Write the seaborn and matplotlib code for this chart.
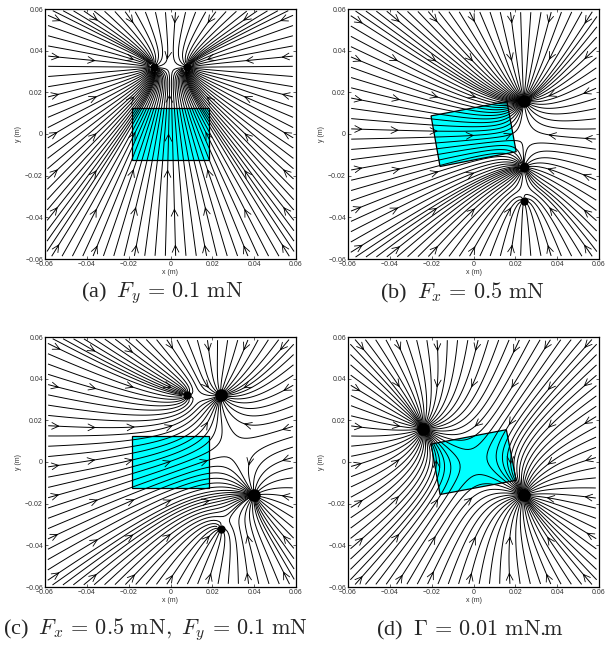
import numpy as np
import matplotlib
matplotlib.use("Agg")
import matplotlib.pyplot as plt
import seaborn as sns
from matplotlib.patches import Polygon, FancyArrowPatch

sns.set_theme(style="white")
plt.rcParams["font.family"] = ["Liberation Sans", "DejaVu Sans"]
plt.rcParams["mathtext.fontset"] = "cm"

# ---- data ----
captions = [r"(a)  $F_y\,=\,0.1\ \mathrm{mN}$",
            r"(b)  $F_x\,=\,0.5\ \mathrm{mN}$",
            r"(c)  $F_x\,=\,0.5\ \mathrm{mN},\ F_y\,=\,0.1\ \mathrm{mN}$",
            r"(d)  $\Gamma\,=\,0.01\ \mathrm{mN}.\!\!\mathrm{m}$"]

# equilibrium points (x, y) in metres, relative attraction strength, dot size
sinks_a_x = [-0.008, 0.008]
sinks_a_y = [0.032, 0.032]
sinks_a_s = [1.0, 1.0]
sinks_a_size = [5, 5]

sinks_b_x = [0.024, 0.024, 0.024]
sinks_b_y = [0.016, -0.016, -0.032]
sinks_b_s = [1.0, 0.6, 0.25]
sinks_b_size = [8, 6, 5]

sinks_c_x = [0.008, 0.024, 0.040, 0.024]
sinks_c_y = [0.032, 0.032, -0.016, -0.032]
sinks_c_s = [0.35, 1.0, 1.0, 0.3]
sinks_c_size = [5, 8, 8, 5]

sinks_d_x = [-0.024, 0.024]
sinks_d_y = [0.016, -0.016]
sinks_d_s = [1.0, 1.0]
sinks_d_size = [8, 8]

# magnet (cyan rectangle) corners
rect_a_x = [-0.0185, 0.0185, 0.0185, -0.0185]
rect_a_y = [0.0123, 0.0123, -0.0123, -0.0123]
rect_b_x = [-0.0203, 0.0160, 0.0204, -0.0160]
rect_b_y = [0.0087, 0.0156, -0.0085, -0.0156]
rect_c_x = [-0.0185, 0.0185, 0.0185, -0.0185]
rect_c_y = [0.0123, 0.0123, -0.0123, -0.0123]
rect_d_x = [-0.0203, 0.0157, 0.0204, -0.0160]
rect_d_y = [0.0086, 0.0155, -0.0088, -0.0156]

tick_vals = [-0.06, -0.04, -0.02, 0, 0.02, 0.04, 0.06]
tick_labels = ["\u22120.06", "\u22120.04", "\u22120.02", "0", "0.02", "0.04", "0.06"]

# approximate lattice where the arrow heads sit
arrow_grid = [-0.054, -0.036, -0.018, 0.0, 0.018, 0.036, 0.054]

panels = [
    (sinks_a_x, sinks_a_y, sinks_a_s, sinks_a_size, rect_a_x, rect_a_y),
    (sinks_b_x, sinks_b_y, sinks_b_s, sinks_b_size, rect_b_x, rect_b_y),
    (sinks_c_x, sinks_c_y, sinks_c_s, sinks_c_size, rect_c_x, rect_c_y),
    (sinks_d_x, sinks_d_y, sinks_d_s, sinks_d_size, rect_d_x, rect_d_y),
]

W, H = 610, 650
fig = plt.figure(figsize=(W / 100, H / 100), dpi=100)
ax_px = [(45, 9), (348, 9), (45, 337), (348, 337)]
ax_w, ax_h = 251, 250
cap_pos = [(162, 293), (462, 293), (155, 630), (470, 630)]

lim = 0.06
gx = np.linspace(-lim, lim, 241)
X, Y = np.meshgrid(gx, gx)

edge = np.arange(-0.0575, 0.0576, 0.005)
inside = 0.0598
starts = np.vstack([
    np.column_stack([np.full_like(edge, -inside), edge]),
    np.column_stack([np.full_like(edge, inside), edge]),
    np.column_stack([edge, np.full_like(edge, -inside)]),
    np.column_stack([edge, np.full_like(edge, inside)]),
])

for i, (sx, sy, ss, ssize, rx, ry) in enumerate(panels):
    left, top = ax_px[i]
    ax = fig.add_axes([left / W, 1 - (top + ax_h) / H, ax_w / W, ax_h / H])
    U = np.zeros_like(X)
    V = np.zeros_like(Y)
    mask = np.zeros(X.shape, dtype=bool)
    for x0, y0, s in zip(sx, sy, ss):
        dx, dy = X - x0, Y - y0
        r2 = dx ** 2 + dy ** 2 + 1e-12
        U -= s * dx / r2
        V -= s * dy / r2
        mask |= r2 < 0.001 ** 2
    U = np.ma.array(U, mask=mask)
    V = np.ma.array(V, mask=mask)

    ax.add_patch(Polygon(np.column_stack([rx, ry]), closed=True,
                         facecolor="#00ffff", edgecolor="black", lw=0.9, zorder=1))
    sp_set = ax.streamplot(gx, gx, U, V, start_points=starts, color="black",
                           linewidth=0.7, arrowsize=0.01, arrowstyle="-",
                           broken_streamlines=False,
                           integration_direction="forward",
                           density=3, zorder=2)
    for patch in list(ax.patches):
        if isinstance(patch, FancyArrowPatch):
            patch.set_visible(False)

    # arrow heads: on the streamline point nearest to each lattice node
    pts, dirs = [], []
    for seg in sp_set.lines.get_segments():
        seg = np.asarray(seg)
        if len(seg) < 2:
            continue
        pts.append((seg[:-1] + seg[1:]) / 2)
        dirs.append(seg[1:] - seg[:-1])
    pts = np.vstack(pts)
    dirs = np.vstack(dirs)
    for gx_ in arrow_grid:
        for gy_ in arrow_grid:
            if min(np.hypot(gx_ - np.array(sx), gy_ - np.array(sy))) < 0.007:
                continue
            d = np.hypot(pts[:, 0] - gx_, pts[:, 1] - gy_)
            k = np.argmin(d)
            if d[k] > 0.004:
                continue
            p = pts[k]
            v = dirs[k] / (np.hypot(*dirs[k]) + 1e-15)
            ax.annotate("", xy=(p[0] + v[0] * 0.0008, p[1] + v[1] * 0.0008),
                        xytext=(p[0] - v[0] * 0.0008, p[1] - v[1] * 0.0008),
                        arrowprops=dict(arrowstyle="->,head_length=0.45,head_width=0.22",
                                        lw=0.6, color="black",
                                        mutation_scale=11, shrinkA=0, shrinkB=0),
                        zorder=3)

    for x0, y0, ms in zip(sx, sy, ssize):
        ax.plot([x0], [y0], marker="o", color="black", markersize=ms,
                linestyle="none", zorder=4)

    ax.set_xlim(-lim, lim)
    ax.set_ylim(-lim, lim)
    ax.set_xticks(tick_vals)
    ax.set_yticks(tick_vals)
    ax.set_xticklabels(tick_labels)
    ax.set_yticklabels(tick_labels)
    ax.tick_params(direction="in", length=2, width=0.5, labelsize=5,
                   labelcolor="#333333", top=True, right=True, pad=1.5,
                   bottom=True, left=True)
    ax.set_xlabel("x (m)", fontsize=5, color="#333333", labelpad=1)
    ax.set_ylabel("y (m)", fontsize=5, color="#333333", labelpad=2)
    for sp in ax.spines.values():
        sp.set_color("black")
        sp.set_linewidth(0.9)
    ax.set_facecolor("white")

    cx, cy = cap_pos[i]
    fig.text(cx / W, 1 - cy / H, captions[i], ha="center", va="center",
             fontsize=16, family="Liberation Serif")

fig.savefig("out.png", dpi=100, facecolor="white")
